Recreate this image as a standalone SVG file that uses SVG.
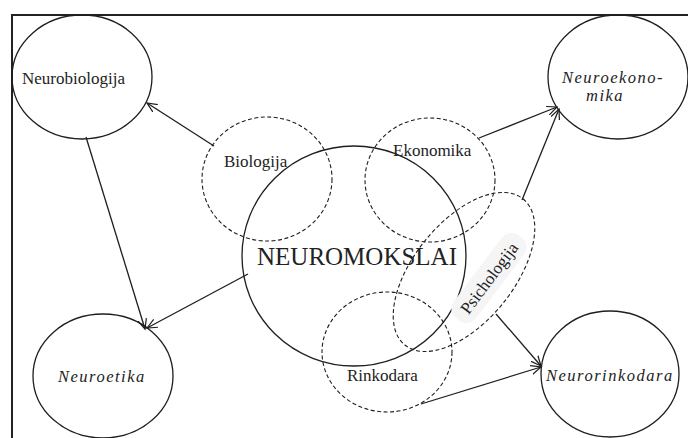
<svg xmlns="http://www.w3.org/2000/svg" width="688" height="438" viewBox="0 0 688 438">
<style>
.solid{fill:none;stroke:#1e1e1e;stroke-width:1.3}
.dash{fill:none;stroke:#1e1e1e;stroke-width:1.1;stroke-dasharray:4 2.5}
.lbl{font-family:"Liberation Serif","Times New Roman",serif;font-size:17px;fill:#222}
.it{font-style:italic;font-size:16.5px;letter-spacing:1.5px}
.conn line{stroke:#1e1e1e;stroke-width:1.3;fill:none;marker-end:url(#arr)}
</style>
<defs>
<marker id="arr" markerUnits="userSpaceOnUse" markerWidth="12" markerHeight="12" refX="10" refY="5" orient="auto">
<path d="M0,0.5 L10,5 L0,9.5" fill="none" stroke="#1e1e1e" stroke-width="1.2"/>
</marker>
</defs>
<rect width="688" height="438" fill="#fff"/>
<path d="M12,440 V15 H690" fill="none" stroke="#222" stroke-width="2"/>

<g id="neurobiologija">
<ellipse class="solid" cx="82" cy="77" rx="70" ry="62"/>
<text class="lbl" x="22" y="84">Neurobiologija</text>
</g>
<g id="neuroekonomika">
<ellipse class="solid" cx="618" cy="77" rx="70" ry="62"/>
<text class="lbl it" x="562" y="83">Neuroekono-</text>
<text class="lbl it" x="586" y="101">mika</text>
</g>
<g id="neuroetika">
<ellipse class="solid" cx="103" cy="376" rx="70" ry="62"/>
<text class="lbl it" x="58" y="382">Neuroetika</text>
</g>
<g id="neurorinkodara">
<ellipse class="solid" cx="610" cy="374" rx="69" ry="63"/>
<text class="lbl it" x="546" y="381">Neurorinkodara</text>
</g>
<g id="neuromokslai">
<ellipse class="solid" cx="354" cy="256" rx="112" ry="110"/>
<text class="lbl" x="257" y="265" style="font-size:25px">NEUROMOKSLAI</text>
</g>
<g id="biologija">
<ellipse class="dash" cx="267" cy="179" rx="65" ry="62"/>
<text class="lbl" x="224" y="167">Biologija</text>
</g>
<g id="ekonomika">
<ellipse class="dash" cx="430" cy="180" rx="65" ry="62"/>
<text class="lbl" x="393" y="156">Ekonomika</text>
</g>
<g id="rinkodara">
<ellipse class="dash" cx="387" cy="352" rx="65" ry="60"/>
<text class="lbl" x="347" y="381">Rinkodara</text>
</g>
<g id="psichologija">
<rect x="437" y="264" width="104" height="28" rx="12" fill="#f5f5f5" transform="rotate(-53 489 278)"/>
<ellipse class="dash" cx="464" cy="272" rx="94" ry="50" transform="rotate(-51 464 272)"/>
<text class="lbl" x="489" y="284" text-anchor="middle" transform="rotate(-53 489 278)">Psichologija</text>
</g>

<g class="conn" id="connectors">
<line x1="214" y1="146" x2="147" y2="103"/>
<line x1="86" y1="137" x2="145" y2="329"/>
<line x1="248" y1="274" x2="147" y2="328"/>
<line x1="479" y1="138" x2="557" y2="107"/>
<line x1="522" y1="200" x2="559" y2="109"/>
<line x1="496" y1="314" x2="541" y2="366"/>
<line x1="421" y1="404" x2="541" y2="367"/>
</g>
</svg>
